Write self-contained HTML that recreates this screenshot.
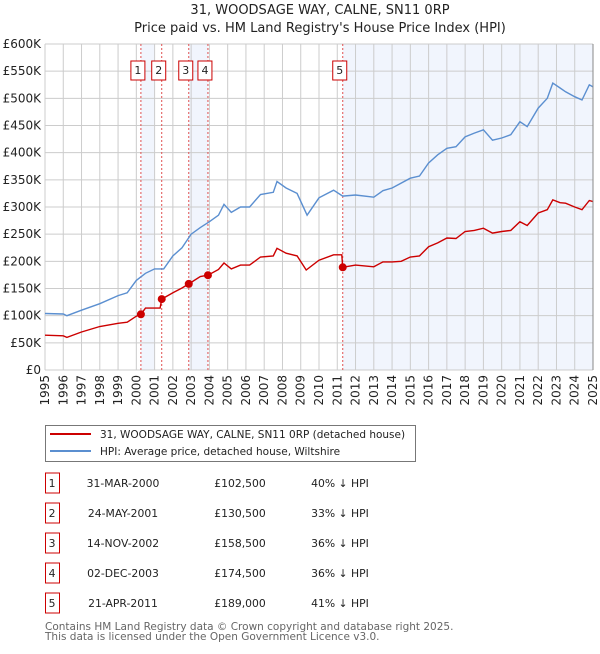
<!DOCTYPE html>
<html><head><meta charset="utf-8"><style>
body{margin:0;background:#fff;font-family:"DejaVu Sans","Liberation Sans",sans-serif;}
svg text{font-family:"DejaVu Sans","Liberation Sans",sans-serif;}
</style></head><body>
<svg id="c" width="600" height="650" viewBox="0 0 600 650" xmlns="http://www.w3.org/2000/svg">
<text x="320" y="14" text-anchor="middle" font-size="13" fill="#222">31, WOODSAGE WAY, CALNE, SN11 0RP</text>
<text x="320" y="32" text-anchor="middle" font-size="13" fill="#222">Price paid vs. HM Land Registry's House Price Index (HPI)</text>
<g id="plot"></g>
<g>
<rect x="45.5" y="425.5" width="370" height="36" fill="#fff" stroke="#777"/>
<line x1="50" y1="434" x2="91" y2="434" stroke="#cc0000" stroke-width="2"/>
<text x="100" y="438" font-size="10.5" fill="#222">31, WOODSAGE WAY, CALNE, SN11 0RP (detached house)</text>
<line x1="50" y1="451" x2="91" y2="451" stroke="#5b8fd0" stroke-width="2"/>
<text x="100" y="455" font-size="10.5" fill="#222">HPI: Average price, detached house, Wiltshire</text>
</g>
<g id="table"></g>
<text x="45" y="630" font-size="10.5" fill="#666">Contains HM Land Registry data © Crown copyright and database right 2025.</text>
<text x="45" y="640" font-size="10.5" fill="#666">This data is licensed under the Open Government Licence v3.0.</text>
</svg>
<script>
const hpiYears=[1995,1996,1996.2,1997,1998,1999,1999.5,2000,2000.5,2001,2001.5,2002,2002.5,2003,2003.5,2004,2004.5,2004.8,2005.2,2005.7,2006.2,2006.8,2007.5,2007.7,2008.2,2008.8,2009.35,2010,2010.8,2011.3,2012,2013,2013.5,2014,2015,2015.5,2016,2016.5,2017,2017.5,2018,2018.5,2019,2019.5,2020,2020.5,2021,2021.4,2022,2022.5,2022.8,2023.2,2023.5,2024,2024.4,2024.8,2025];
const hpiValues=[104,103,100,110,122,137,142,165,178,186,186,210,225,250,262,273,285,305,290,300,300,323,327,347,335,325,285,317,331,320,322,318,330,335,353,357,381,396,408,411,429,436,442,423,427,433,457,448,482,500,528,519,512,503,497,525,521];
const ppYears=[1995,1996,1996.2,1997,1998,1999,1999.5,2000,2000.25,2000.5,2001.3,2001.39,2002,2002.5,2002.87,2003.5,2003.92,2004.5,2004.8,2005.2,2005.7,2006.2,2006.8,2007.5,2007.7,2008.2,2008.8,2009.3,2010,2010.8,2011.25,2011.3,2012,2013,2013.5,2014,2014.5,2015,2015.5,2016,2016.5,2017,2017.5,2018,2018.5,2019,2019.5,2020,2020.5,2021,2021.4,2022,2022.5,2022.8,2023.2,2023.5,2024,2024.4,2024.8,2025];
const ppValues=[64,63,60,70,80,86,88,99,102.5,114,114,130.5,142,151,158.5,172,174.5,185,197,186,193,193,208,210,224,215,210,184,202,212,212,189,193,190,199,199,200,208,210,227,234,243,242,255,257,261,252,255,257,273,266,289,295,313,308,307,300,295,312,310];
const saleLabels=["1","2","3","4","5"];
const saleYears=[2000.25,2001.39,2002.87,2003.92,2011.3];
const saleValues=[102.5,130.5,158.5,174.5,189];
const saleDates=["31-MAR-2000","24-MAY-2001","14-NOV-2002","02-DEC-2003","21-APR-2011"];
const salePrices=["£102,500","£130,500","£158,500","£174,500","£189,000"];
const salePcts=["40% ↓ HPI","33% ↓ HPI","36% ↓ HPI","36% ↓ HPI","41% ↓ HPI"];
const bandStarts=[2000.25,2002.87,2011.3];
const bandEnds=[2001.0,2003.92,2025];
const yTicks=[0,50,100,150,200,250,300,350,400,450,500,550,600];
const yTickLabels=["£0","£50K","£100K","£150K","£200K","£250K","£300K","£350K","£400K","£450K","£500K","£550K","£600K"];
const xTicks=[1995,1996,1997,1998,1999,2000,2001,2002,2003,2004,2005,2006,2007,2008,2009,2010,2011,2012,2013,2014,2015,2016,2017,2018,2019,2020,2021,2022,2023,2024,2025];

const NS="http://www.w3.org/2000/svg";
const X0=45,X1=593,Y0=370,Y1=44;
const xs=y=>X0+(y-1995)/30*(X1-X0);
const ys=v=>Y0-v/600*(Y0-Y1);
const plot=document.getElementById('plot');
function mk(tag,at,parent){const e=document.createElementNS(NS,tag);for(const k in at)e.setAttribute(k,at[k]);(parent||plot).appendChild(e);return e;}
for(let i=0;i<bandStarts.length;i++){
  const r=mk('rect',{x:xs(bandStarts[i]),y:Y1,width:xs(bandEnds[i])-xs(bandStarts[i]),height:Y0-Y1,fill:'#eef3fc',opacity:0.8});
  
  
}
yTicks.forEach((v,i)=>{
  const l=mk('line',{x1:X0,x2:X1,y1:ys(v),y2:ys(v),stroke:'#ccc','stroke-width':1});
  
  
  const t=mk('text',{x:X0-4,y:ys(v)+4,'text-anchor':'end','font-size':12,fill:'#222'});
  t.textContent=yTickLabels[i];
  
  
});
xTicks.forEach(v=>{
  const l=mk('line',{x1:xs(v),x2:xs(v),y1:Y1,y2:Y0,stroke:'#ccc','stroke-width':1});
  
  
  const t=mk('text',{x:0,y:0,'text-anchor':'end','font-size':12,fill:'#222',transform:`translate(${xs(v)+4},${Y0+5}) rotate(-90)`});
  t.textContent=v;
  
  
});
saleYears.forEach((y,i)=>{
  const l=mk('line',{x1:xs(y),x2:xs(y),y1:Y1,y2:Y0,stroke:'#e05050','stroke-width':1,'stroke-dasharray':'2,2'});
  
  
  const bx=xs(y)-10;
  const b=mk('rect',{x:bx,y:61,width:14,height:19,fill:'#fff',stroke:'#cc0000','stroke-width':1});
  
  
  const t=mk('text',{x:bx+7,y:74,'text-anchor':'middle','font-size':11,fill:'#222'});
  t.textContent=saleLabels[i];
  
  
});
const hp=mk('path',{d:hpiYears.map((y,i)=>(i?'L':'M')+xs(y).toFixed(1)+','+ys(hpiValues[i]).toFixed(1)).join(''),fill:'none',stroke:'#5b8fd0','stroke-width':1.4});


const pp=mk('path',{d:ppYears.map((y,i)=>(i?'L':'M')+xs(y).toFixed(1)+','+ys(ppValues[i]).toFixed(1)).join(''),fill:'none',stroke:'#cc0000','stroke-width':1.4});


saleYears.forEach((y,i)=>{
  const c=mk('circle',{cx:xs(y),cy:ys(saleValues[i]),r:4,fill:'#cc0000'});
  
  
});
const ax=mk('line',{x1:X1,x2:X1,y1:Y1,y2:Y0,stroke:'#888','stroke-width':1});


const tbl=document.getElementById('table');
saleLabels.forEach((s,i)=>{
  const cy=483+i*30;
  const b=mk('rect',{x:45.5,y:cy-10,width:14,height:20,fill:'#fff',stroke:'#cc0000'},tbl);
  
  
  const cells=[[52,s],[123,saleDates[i]],[240,salePrices[i]],[340,salePcts[i]]];
  cells.forEach(([x,txt],j)=>{
    const t=mk('text',{x:x,y:cy+4,'text-anchor':'middle','font-size':10.8,fill:'#222'},tbl);
    t.textContent=txt;
    
    
  });
});
</script>
</body></html>
